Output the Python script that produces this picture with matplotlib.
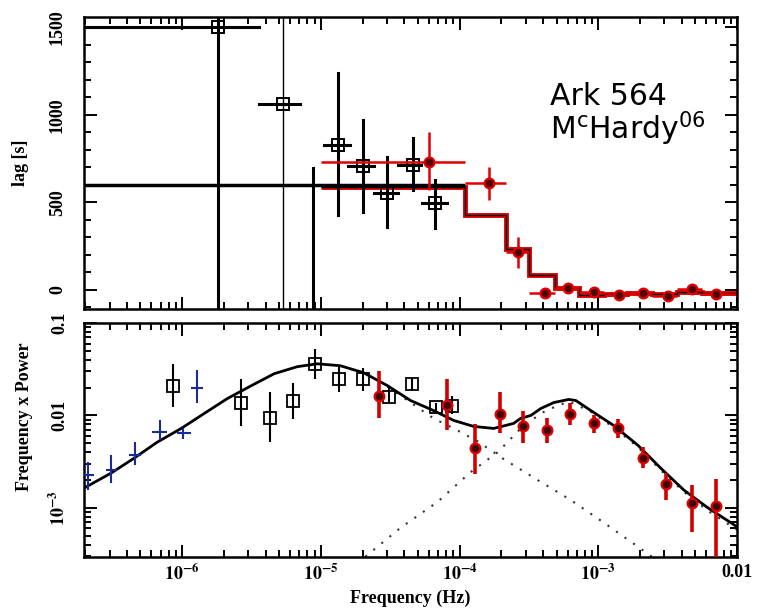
import matplotlib
matplotlib.use("Agg")
import matplotlib.pyplot as plt
import numpy as np
from matplotlib.ticker import MultipleLocator, LogLocator, NullFormatter

# ---- top panel: time lags ----
lag_blk_f = [1.82e-6, 5.35e-6, 1.32e-5, 2.0e-5, 3.0e-5, 4.6e-5, 6.7e-5]
lag_blk_flo = [1e-7, 3.6e-6, 1.05e-5, 1.58e-5, 2.4e-5, 3.6e-5, 5.4e-5]
lag_blk_fhi = [3.6e-6, 7.1e-6, 1.62e-5, 2.4e-5, 3.6e-5, 5.25e-5, 8.1e-5]
lag_blk = [1505, 1063, 829, 709, 554, 714, 497]
lag_blk_lo = [-2000, -2000, 429, 446, 360, 571, 354]
lag_blk_hi = [4000, 4000, 1240, 971, 760, 869, 629]

# lone error bar whose point lies off the plot
lag_bar_f = 8.7e-6
lag_bar = [697, -2000]

# black model (one flat bin)
blk_model_edges = [1e-7, 1.1e-4]
blk_model = [600]

lag_red_f = [5.97e-5, 1.62e-4, 2.63e-4, 4.1e-4, 6.0e-4, 9.3e-4, 1.42e-3,
             2.1e-3, 3.16e-3, 4.73e-3, 7.0e-3]
lag_red = [731, 611, 217, -17, 11, -11, -29, -17, -34, 6, -23]
lag_red_lo = [571, 514, 126, -45, -15, -35, -50, -40, -55, -15, -45]
lag_red_hi = [903, 703, 303, 10, 35, 15, -5, 5, -10, 30, 0]
red_edges = [1.0e-5, 1.1e-4, 2.15e-4, 3.16e-4, 4.9e-4, 7.2e-4, 1.1e-3,
             1.6e-3, 2.45e-3, 3.7e-3, 5.6e-3, 1.0e-2]
red_model = [590, 425, 234, 86, 10, -29, -25, -20, -25, -15, -20]

# ---- bottom panel: frequency x power ----
psd_blue_f = [2.1e-7, 3.06e-7, 4.57e-7, 6.9e-7, 1.02e-6, 1.28e-6]
psd_blue_flo = [1.9e-7, 2.82e-7, 4.14e-7, 6.07e-7, 9.2e-7, 1.16e-6]
psd_blue_fhi = [2.32e-7, 3.40e-7, 5.06e-7, 7.8e-7, 1.16e-6, 1.42e-6]
psd_blue = [2.27e-3, 2.56e-3, 3.7e-3, 6.6e-3, 6.4e-3, 0.020]
psd_blue_lo = [1.56e-3, 1.86e-3, 2.88e-3, 5.37e-3, 5.5e-3, 0.0135]
psd_blue_hi = [3.13e-3, 3.72e-3, 5.13e-3, 8.9e-3, 7.24e-3, 0.0313]

psd_blk_f = [8.6e-7, 2.67e-6, 4.3e-6, 6.3e-6, 9.1e-6, 1.34e-5, 2.0e-5,
             3.1e-5, 4.5e-5, 6.8e-5, 8.8e-5]
psd_blk = [0.021, 0.0138, 9.5e-3, 0.0145, 0.036, 0.0245, 0.025, 0.016,
           0.022, 0.0122, 0.0128]
psd_blk_lo = [0.0123, 7.6e-3, 5.13e-3, 9.1e-3, 0.0245, 0.0178, 0.0186,
              0.0135, 0.0186, 0.0110, 0.0105]
psd_blk_hi = [0.0363, 0.0251, 0.0178, 0.0226, 0.0525, 0.0347, 0.0328,
              0.021, 0.0257, 0.0136, 0.0164]

psd_red_f = [2.64e-5, 8.05e-5, 1.3e-4, 1.94e-4, 2.85e-4, 4.26e-4, 6.2e-4,
             9.3e-4, 1.38e-3, 2.1e-3, 3.1e-3, 4.7e-3, 7.1e-3]
psd_red = [0.0164, 0.0129, 4.4e-3, 0.0105, 7.6e-3, 6.9e-3, 0.0105, 8.2e-3,
           7.4e-3, 3.5e-3, 1.8e-3, 1.13e-3, 1.05e-3]
psd_red_lo = [9.3e-3, 6.9e-3, 2.34e-3, 6.5e-3, 5.1e-3, 5.0e-3, 7.9e-3,
              6.4e-3, 5.66e-3, 2.69e-3, 1.23e-3, 5.5e-4, 1e-4]
psd_red_hi = [0.0305, 0.0251, 8.1e-3, 0.0178, 0.0112, 9.3e-3, 0.0135, 0.01,
              9.06e-3, 4.57e-3, 2.4e-3, 1.78e-3, 2.04e-3]

# model curves
model_f = [1.96e-7, 3.07e-7, 4.50e-7, 6.59e-7, 9.84e-7, 1.44e-6, 2.11e-6,
           3.15e-6, 4.61e-6, 6.76e-6, 9.44e-6, 1.38e-5, 2.03e-5, 3.02e-5,
           4.43e-5, 6.49e-5, 9.06e-5, 1.26e-4, 1.76e-4, 2.45e-4, 2.75e-4,
           3.26e-4, 3.85e-4, 4.78e-4, 6.12e-4, 6.89e-4, 8.83e-4, 1.29e-3,
           1.93e-3, 2.82e-3, 4.14e-3, 6.18e-3, 9.06e-3, 1.0e-2]
model_p = [1.64e-3, 2.38e-3, 3.45e-3, 5.13e-3, 7.24e-3, 1.05e-2, 1.52e-2,
           2.10e-2, 2.83e-2, 3.37e-2, 3.62e-2, 3.45e-2, 2.90e-2, 2.10e-2,
           1.45e-2, 1.13e-2, 8.84e-3, 7.62e-3, 7.24e-3, 8.20e-3, 9.29e-3,
           1.00e-2, 1.19e-2, 1.38e-2, 1.49e-2, 1.45e-2, 1.13e-2, 7.80e-3,
           4.76e-3, 2.69e-3, 1.56e-3, 1.00e-3, 6.90e-4, 6.25e-4]
low_f = [3.02e-5, 4.43e-5, 6.49e-5, 9.06e-5, 1.35e-4, 2.08e-4, 3.66e-4,
         6.32e-4, 1.10e-3, 1.93e-3, 2.60e-3]
low_p = [2.05e-2, 1.38e-2, 9.29e-3, 7.24e-3, 5.25e-3, 3.37e-3, 2.0e-3,
         1.22e-3, 6.9e-4, 3.81e-4, 2.76e-4]
high_f = [2.09e-5, 3.75e-5, 6.93e-5, 1.20e-4, 1.88e-4, 2.90e-4, 4.18e-4,
          6.12e-4, 8.83e-4, 1.29e-3, 1.93e-3, 2.82e-3, 4.14e-3, 6.18e-3, 1.0e-2]
high_p = [2.97e-4, 6.1e-4, 1.16e-3, 2.44e-3, 4.0e-3, 7.8e-3, 1.13e-2,
          1.42e-2, 1.10e-2, 7.43e-3, 4.53e-3, 2.56e-3, 1.49e-3, 9.29e-4, 5.8e-4]

plt.rcParams['font.family'] = 'Liberation Serif'
plt.rcParams['mathtext.fontset'] = 'stix'

RED = '#e00000'
BLUE = '#1a2a9a'

fig = plt.figure(figsize=(7.57, 6.13), dpi=100)
ax1 = fig.add_axes([0.111, 0.496, 0.8626, 0.4764])
ax2 = fig.add_axes([0.111, 0.0914, 0.8626, 0.3817])

for ax in (ax1, ax2):
    ax.set_xscale('log')
    ax.set_xlim(1.96e-7, 1e-2)
    ax.tick_params(which='both', direction='in', top=True, right=True, width=1.4)
    ax.tick_params(which='major', length=9)
    ax.tick_params(which='minor', length=5)
    ax.xaxis.set_minor_locator(LogLocator(subs=np.arange(2, 10)))
    ax.xaxis.set_minor_formatter(NullFormatter())
    for s in ax.spines.values():
        s.set_linewidth(1.8)

# ---- top panel ----
ax1.stairs(red_model, red_edges, baseline=None, color=RED, lw=3.5)
ax1.stairs(red_model, red_edges, baseline=None, color='k', lw=1.0)
ax1.stairs(blk_model, blk_model_edges, baseline=None, color='k', lw=2.5)
ax1.plot([lag_bar_f, lag_bar_f], lag_bar, color='k', lw=2.2)

for i in range(len(lag_blk_f)):
    ax1.plot([lag_blk_flo[i], lag_blk_fhi[i]], [lag_blk[i]] * 2, color='k', lw=2.2)
    ax1.plot([lag_blk_f[i]] * 2, [lag_blk_lo[i], lag_blk_hi[i]], color='k',
             lw=1.0 if i == 1 else 2.2)
ax1.plot(lag_blk_f, lag_blk, 's', mfc='none', mec='k', ms=9, mew=1.4)

rf = np.array(lag_red_f)
rl = np.array(lag_red)
re = np.array(red_edges)
ax1.errorbar(rf, rl, xerr=[rf - re[:-1], re[1:] - rf],
             yerr=[rl - np.array(lag_red_lo), np.array(lag_red_hi) - rl],
             fmt='o', ms=7, mfc='#500000', mec=RED, mew=1.6,
             ecolor=RED, elinewidth=1.8, capsize=0)

ax1.set_ylim(-110, 1560)
ax1.set_yticks([0, 500, 1000, 1500], labels=['0', '500', '1000', '1500'],
               rotation=90, va='center', fontsize=13, fontweight='bold')
ax1.yaxis.set_minor_locator(MultipleLocator(100))
ax1.tick_params(axis='y', pad=13)
ax1.tick_params(labelbottom=False)
ax1.set_ylabel('lag [s]', fontsize=13, fontweight='bold')
ax1.yaxis.set_label_coords(-0.084, 0.5)

ax1.text(0.714, 0.699, 'Ark 564', transform=ax1.transAxes, fontsize=21.5,
         family='DejaVu Sans', va='baseline')
ax1.text(0.714, 0.579, r'M$^{\mathrm{c}}$Hardy$^{\mathrm{06}}$',
         transform=ax1.transAxes, fontsize=21.5, family='DejaVu Sans',
         va='baseline', math_fontfamily='dejavusans')

# ---- bottom panel ----
ax2.set_yscale('log')
ax2.plot(model_f, model_p, color='k', lw=2.0, zorder=3)
ax2.plot(low_f, low_p, color='#333333', lw=1.5, ls=(0, (1, 4)), zorder=2)
ax2.plot(high_f, high_p, color='#333333', lw=1.5, ls=(0, (1, 4)), zorder=2)

bf = np.array(psd_blue_f)
bp = np.array(psd_blue)
ax2.errorbar(bf, bp, xerr=[bf - np.array(psd_blue_flo), np.array(psd_blue_fhi) - bf],
             yerr=[bp - np.array(psd_blue_lo), np.array(psd_blue_hi) - bp],
             fmt='none', ecolor=BLUE, elinewidth=1.5, capsize=0, zorder=4)

kp = np.array(psd_blk)
ax2.errorbar(psd_blk_f, kp,
             yerr=[kp - np.array(psd_blk_lo), np.array(psd_blk_hi) - kp],
             fmt='s', ms=9, mfc='none', mec='k', mew=1.3,
             ecolor='k', elinewidth=1.5, capsize=0, zorder=4)

rp = np.array(psd_red)
ax2.errorbar(psd_red_f, rp,
             yerr=[rp - np.array(psd_red_lo), np.array(psd_red_hi) - rp],
             fmt='o', ms=7, mfc='#400000', mec=RED, mew=1.6,
             ecolor='#d00000', elinewidth=2.6, capsize=0, zorder=5)

ax2.set_ylim(2.95e-4, 0.1)
ax2.set_yticks([1e-3, 1e-2, 1e-1],
               labels=[r'$\mathbf{10^{-3}}$', '0.01', '0.1'],
               rotation=90, va='center', fontsize=13, fontweight='bold')
ax2.yaxis.set_minor_locator(LogLocator(subs=np.arange(2, 10)))
ax2.yaxis.set_minor_formatter(NullFormatter())
ax2.tick_params(axis='y', pad=11)
ax2.set_xticks([1e-6, 1e-5, 1e-4, 1e-3, 1e-2],
               labels=[r'$\mathbf{10^{-6}}$', r'$\mathbf{10^{-5}}$',
                       r'$\mathbf{10^{-4}}$', r'$\mathbf{10^{-3}}$', '0.01'],
               fontsize=13, fontweight='bold')
ax2.tick_params(axis='x', pad=5)
ax2.set_xlabel('Frequency (Hz)', fontsize=13, fontweight='bold')
ax2.set_ylabel('Frequency x Power', fontsize=13, fontweight='bold')
ax2.yaxis.set_label_coords(-0.078, 0.6)

fig.savefig('out.png', dpi=100)
